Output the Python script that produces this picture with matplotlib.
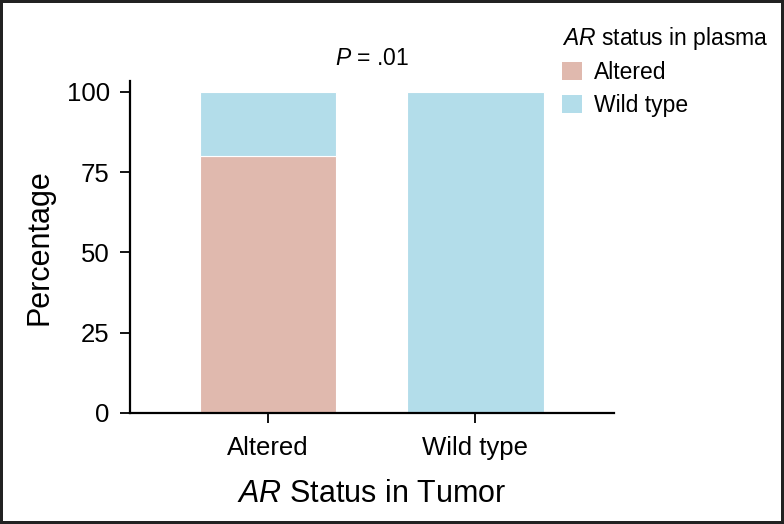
import matplotlib
matplotlib.use('Agg')
import matplotlib.pyplot as plt
from matplotlib.patches import Patch

# AR status in tumor (x categories)
tumor_status = ['Altered', 'Wild type']
# Percentage of AR status in plasma within each tumor group
plasma_altered = [80, 0]
plasma_wild = [20, 100]
legend_labels = ['Altered', 'Wild type']
p_text = '$P$ = .01'

plt.rcParams['font.family'] = ['Liberation Sans', 'DejaVu Sans']
plt.rcParams['mathtext.fontset'] = 'custom'
plt.rcParams['mathtext.rm'] = 'Liberation Sans'
plt.rcParams['mathtext.it'] = 'Liberation Sans:italic'

col_altered = '#E0B9AE'
col_wild = '#B3DDEA'

fig = plt.figure(figsize=(7.84, 5.24), dpi=100)
fig.patch.set_edgecolor('#222222')
fig.patch.set_linewidth(3)
ax = fig.add_axes([130 / 784, 111 / 524, 484 / 784, 332 / 524])

x = list(range(len(tumor_status)))
ax.bar(x, plasma_altered, width=0.66, color=col_altered, edgecolor='white', linewidth=0.8)
ax.bar(x, plasma_wild, width=0.66, bottom=plasma_altered, color=col_wild,
       edgecolor='white', linewidth=0.8)

ax.set_xlim(-0.667, 1.67)
ax.set_ylim(0, 103.4)
ax.set_yticks([0, 25, 50, 75, 100])
ax.set_xticks(x)
ax.set_xticklabels(tumor_status)

for side in ['top', 'right']:
    ax.spines[side].set_visible(False)
for side in ['left', 'bottom']:
    ax.spines[side].set_linewidth(1.6)
ax.tick_params(axis='both', labelsize=18.5, width=1.3, length=7.5)
ax.tick_params(axis='y', pad=7)
ax.tick_params(axis='x', pad=9)

ax.set_ylabel('Percentage', fontsize=22, labelpad=9)
ax.set_xlabel(r'$\mathit{AR}$ Status in Tumor', fontsize=22, labelpad=14)

ax.text(0.5, 110.5, p_text, fontsize=16.5, ha='center', va='center', clip_on=False)

handles = [Patch(facecolor=col_altered, edgecolor='none'),
           Patch(facecolor=col_wild, edgecolor='none')]
fig.legend(handles, legend_labels, title=r'$\mathit{AR}$ status in plasma',
           loc='upper left', bbox_to_anchor=(557 / 784, 1 - 20 / 524),
           frameon=False, fontsize=16.5, title_fontsize=16.5, alignment='left',
           handlelength=0.9, handleheight=0.85, handletextpad=0.5,
           labelspacing=0.42, borderaxespad=0, borderpad=0.2)

fig.savefig('out.png', dpi=100)
